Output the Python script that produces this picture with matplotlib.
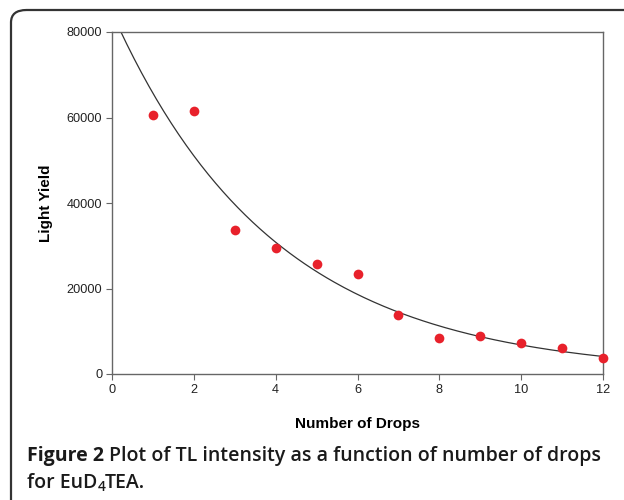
import numpy as np
import matplotlib.pyplot as plt
from matplotlib.patches import FancyBboxPatch

drops = [1, 2, 3, 4, 5, 6, 7, 8, 9, 10, 11, 12]
light_yield = [60500, 61500, 33800, 29500, 25800, 23500, 13800, 8500, 8800, 7200, 6000, 3800]
x_ticks = [0, 2, 4, 6, 8, 10, 12]
y_ticks = [0, 20000, 40000, 60000, 80000]

# exponential trendline, fitted in log space
slope, icept = np.polyfit(drops, np.log(light_yield), 1)
xs = np.linspace(0, 12, 200)
ys = np.exp(icept + slope * xs)

W, H = 624, 500
fig = plt.figure(figsize=(W / 100, H / 100), dpi=100)

# rounded frame (only top and left edges fall inside the image)
frame = FancyBboxPatch((11 / W, -0.2), 1.2, (H - 10) / H + 0.2,
                       boxstyle="round,pad=0,rounding_size=0.025",
                       transform=fig.transFigure, fill=False,
                       edgecolor='#333333', linewidth=1.6, clip_on=False)
fig.patches.append(frame)

ax = fig.add_axes([112 / W, 1 - 374 / H, (603 - 112) / W, (374 - 32) / H])
ax.plot(xs, ys, color='#333333', linewidth=0.9, zorder=2)
ax.plot(drops, light_yield, 'o', color='#e8212b', markersize=7,
        markeredgewidth=0, zorder=3, clip_on=False)

ax.set_xlim(0, 12)
ax.set_ylim(0, 80000)
ax.set_xticks(x_ticks)
ax.set_yticks(y_ticks)
for s in ax.spines.values():
    s.set_color('#666666')
    s.set_linewidth(1.0)
ax.tick_params(direction='out', length=4, width=0.8, color='#666666',
               labelsize=9.2, labelcolor='#222222', pad=3)
for lab in ax.get_xticklabels() + ax.get_yticklabels():
    lab.set_family('Liberation Sans')

ax.set_xlabel('Number of Drops', family='Liberation Sans', fontweight='bold',
              fontsize=11, labelpad=15)
ax.set_ylabel('Light Yield', family='Liberation Sans', fontweight='bold',
              fontsize=11, labelpad=10)

# caption, drawn piece by piece
renderer = fig.canvas.get_renderer()
cap = dict(family='Open Sans', color='#1a1a1a', va='baseline')


def put(x, y, s, **kw):
    t = fig.text(x / W, 1 - y / H, s, **{**cap, **kw})
    return x + t.get_window_extent(renderer).width


x = put(27, 461, 'Figure 2 ', fontweight='bold', fontsize=14)
put(x, 461, 'Plot of TL intensity as a function of number of drops',
    fontweight='semibold', fontsize=14)
x = put(27, 488, 'for EuD', fontweight='semibold', fontsize=14)
x = put(x, 491, '4', fontweight='semibold', fontsize=10)
put(x, 488, 'TEA.', fontweight='semibold', fontsize=14)

fig.savefig('out.png', dpi=100)
